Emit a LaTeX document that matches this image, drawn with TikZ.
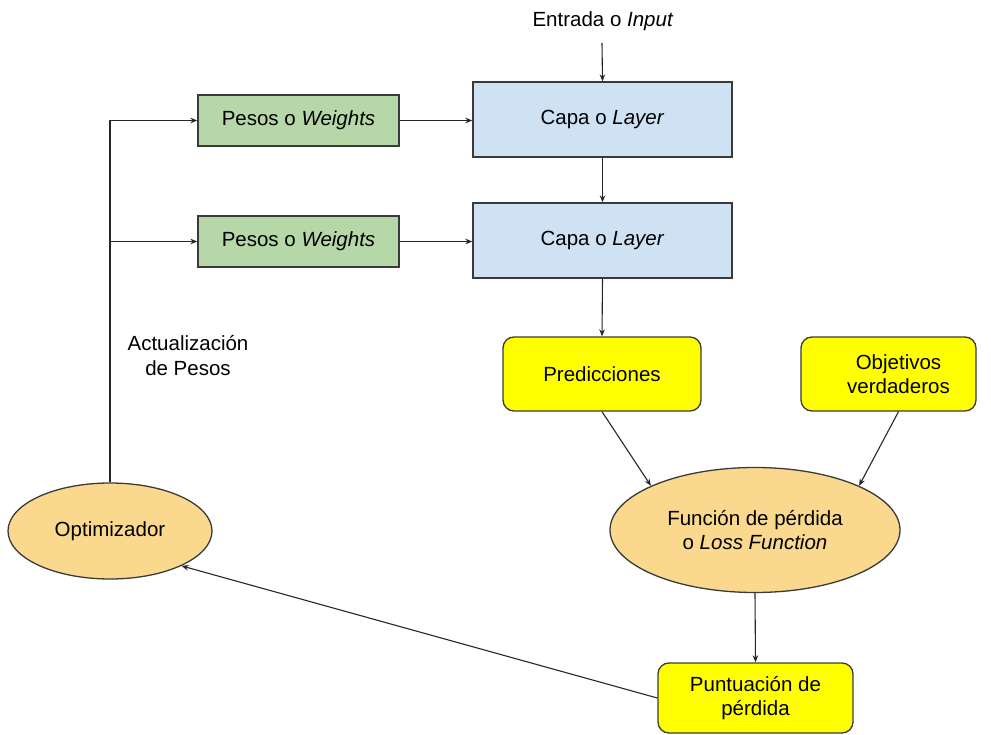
\documentclass[tikz,border=0pt]{standalone}
\usepackage{fontspec}
\setmainfont{Liberation Sans}
\usetikzlibrary{shapes.geometric,arrows.meta,calc}
\definecolor{wgreen}{HTML}{B6D7A8}
\definecolor{lblue}{HTML}{CFE2F3}
\definecolor{pyellow}{HTML}{FFFF00}
\definecolor{lorange}{HTML}{FAD98E}
\definecolor{edge}{HTML}{3A3A3A}
\begin{document}
\begin{tikzpicture}[x=1pt,y=-1pt,
  every node/.style={font=\fontsize{20.5}{24.5}\selectfont, align=center, inner sep=0pt},
  box/.style={draw=edge, line width=1.3pt},
  wbox/.style={box, fill=wgreen, minimum width=201pt, minimum height=51pt},
  lbox/.style={box, fill=lblue, minimum width=259pt, minimum height=75pt},
  ybox/.style={box, fill=pyellow, rounded corners=11pt, minimum height=74pt},
  oval/.style={box, fill=lorange, ellipse},
  link/.style={draw=black!85, line width=1.1pt, -{Stealth[length=7pt,width=5.5pt]}},
  wire/.style={draw=black!85, line width=1.1pt}]
\useasboundingbox (0,0) rectangle (991,735);

% input label and layers
\node (inp) at (603,21) {Entrada o \textit{Input}};
\coordinate (inpend) at (602,43);
\node[lbox] (layer1) at (602.5,119.5) {Capa o \textit{Layer}};
\node[lbox] (layer2) at (602.5,240.5) {Capa o \textit{Layer}};

% weights
\node[wbox] (w1) at (298.5,120.5) {Pesos o \textit{Weights}};
\node[wbox] (w2) at (298.5,241.5) {Pesos o \textit{Weights}};

% predictions and targets
\node[ybox, minimum width=198pt] (pred) at (602,374) {Predicciones};
\node[ybox, minimum width=175pt] (targ) at (888.5,374) {};
\node at ($(targ.center)+(10,0)$) {Objetivos\\verdaderos};

% loss, score, optimizer
\node[oval, minimum width=290pt, minimum height=125pt] (loss) at (755,530) {Función de pérdida\\o \textit{Loss Function}};
\node[ybox, minimum width=195pt, minimum height=70pt] (score) at (755.5,698) {Puntuación de\\pérdida};
\node[oval, minimum width=204pt, minimum height=96pt] (opt) at (110,531) {Optimizador};

\node (upd) at (188,355.5) {Actualización\\de Pesos};

% forward pass
\draw[link] (inpend) -- (layer1.north);
\draw[link] (layer1.south) -- (layer2.north);
\draw[link] (layer2.south) -- (pred.north);
\draw[link] (w1.east) -- (layer1.west |- w1.east);
\draw[link] (w2.east) -- (layer2.west |- w2.east);

% loss computation
\draw[link] (pred.south) -- (loss.157);
\draw[link] ($(targ.south)+(10,0)$) -- (loss.23);
\draw[link] (loss.south) -- (score.north);
\draw[link] (score.west) -- (opt.-26);

% weight update loop
\coordinate (top) at (opt.north |- w1.west);
\coordinate (mid) at (opt.north |- w2.west);
\draw[wire] (opt.north) -- (top);
\draw[link] (top) -- (w1.west);
\draw[link] (mid) -- (w2.west);
\end{tikzpicture}
\end{document}
